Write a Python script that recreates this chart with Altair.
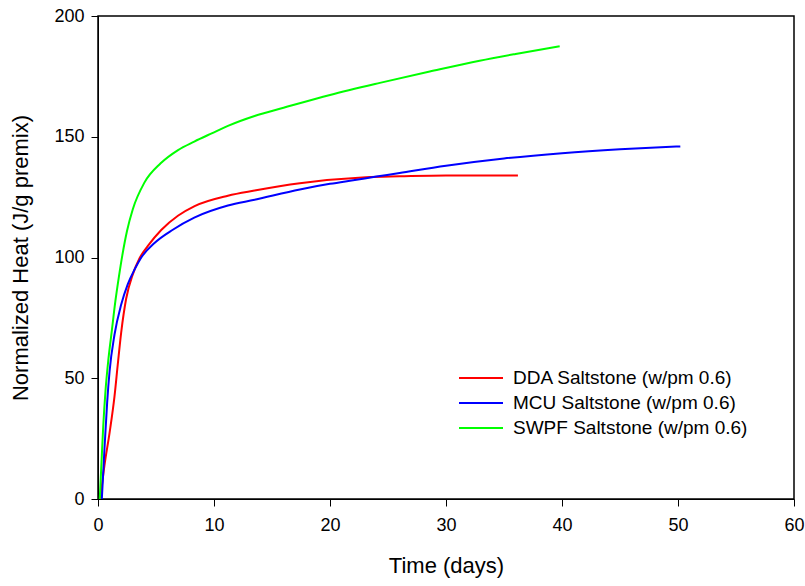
import altair as alt
import pandas as pd

series_names = ["DDA Saltstone (w/pm 0.6)", "MCU Saltstone (w/pm 0.6)", "SWPF Saltstone (w/pm 0.6)"]

dda_t = [0.2, 0.56, 1.0, 1.42, 1.71, 2.0, 2.43, 3.0, 3.58, 4.3, 5.45, 6.89, 8.33, 11.2, 13.5, 17.4, 23.1, 26, 30, 33, 36.2]
dda_q = [0, 14, 27.5, 42.4, 56, 69, 83, 93, 99.7, 104.8, 111.4, 117.3, 121.3, 125.6, 127.7, 130.7, 133.2, 133.6, 134, 134, 134]

mcu_t = [0.33, 0.56, 0.79, 1.0, 1.42, 2.0, 2.57, 3.15, 3.73, 4.87, 6.45, 8.3, 11.2, 13.5, 17.4, 20, 22, 24, 26, 30, 35, 40, 45, 50.2]
mcu_q = [0, 21, 40, 53, 68, 80.5, 89, 95, 100, 106, 111.5, 116.5, 121.5, 123.9, 128.2, 130.5, 132, 133.5, 135, 138, 141, 143.2, 144.8, 146]

swpf_t = [0.15, 0.3, 0.45, 0.65, 0.9, 1.2, 1.5, 1.8, 2.1, 2.5, 3.0, 4.0, 5.4, 6.9, 8.3, 9.8, 11.2, 13.5, 16, 20, 24.3, 28.6, 32.9, 36, 39.8]
swpf_q = [0, 15, 30, 45, 58, 70, 82, 92, 101, 111, 120, 131, 139, 144.5, 148, 151.4, 154.5, 158.6, 162, 167.3, 172.3, 177, 181.5, 184.3, 187.5]

rows = []
for name, ts, qs in zip(series_names, [dda_t, mcu_t, swpf_t], [dda_q, mcu_q, swpf_q]):
    for i, (t, q) in enumerate(zip(ts, qs)):
        rows.append({"series": name, "t": t, "q": q, "order": i})
df = pd.DataFrame(rows)

font = "Liberation Sans"

chart = alt.Chart(df).mark_line(strokeWidth=2, interpolate="monotone").encode(
    x=alt.X("t:Q", title="Time (days)",
            scale=alt.Scale(domain=[0, 60], nice=False, zero=False),
            axis=alt.Axis(values=[0, 10, 20, 30, 40, 50, 60], grid=False, tickSize=7,
                          labelPadding=10, titlePadding=21, labelFontSize=18, titleFontSize=22,
                          titleFontWeight="normal", labelFont=font, titleFont=font,
                          domainColor="black", tickColor="black", labelColor="black",
                          titleColor="black", labelFlush=False)),
    y=alt.Y("q:Q", title="Normalized Heat (J/g premix)",
            scale=alt.Scale(domain=[0, 200], nice=False),
            axis=alt.Axis(values=[0, 50, 100, 150, 200], grid=False, tickSize=7,
                          labelPadding=7, titlePadding=21, labelFontSize=18, titleFontSize=22,
                          titleFontWeight="normal", labelFont=font, titleFont=font,
                          domainColor="black", tickColor="black", labelColor="black",
                          titleColor="black", labelFlush=False)),
    color=alt.Color("series:N",
                    scale=alt.Scale(domain=series_names, range=["#ff0000", "#0000ff", "#00ff00"]),
                    legend=alt.Legend(title=None, orient="none", legendX=371, legendY=350,
                                      symbolType="M-2,0L2,0", symbolSize=484, symbolStrokeWidth=2,
                                      labelFontSize=19, labelFont=font, labelColor="black",
                                      labelLimit=0, rowPadding=3, labelOffset=20)),
    order="order:Q",
).properties(width=696, height=483, padding={"left": 98, "top": 16, "right": 11, "bottom": 87},
             autosize=alt.AutoSizeParams(type="none")).configure_view(stroke="black", strokeWidth=1.5)

chart.save("out.html", embed_options={"renderer": "svg", "actions": False})
